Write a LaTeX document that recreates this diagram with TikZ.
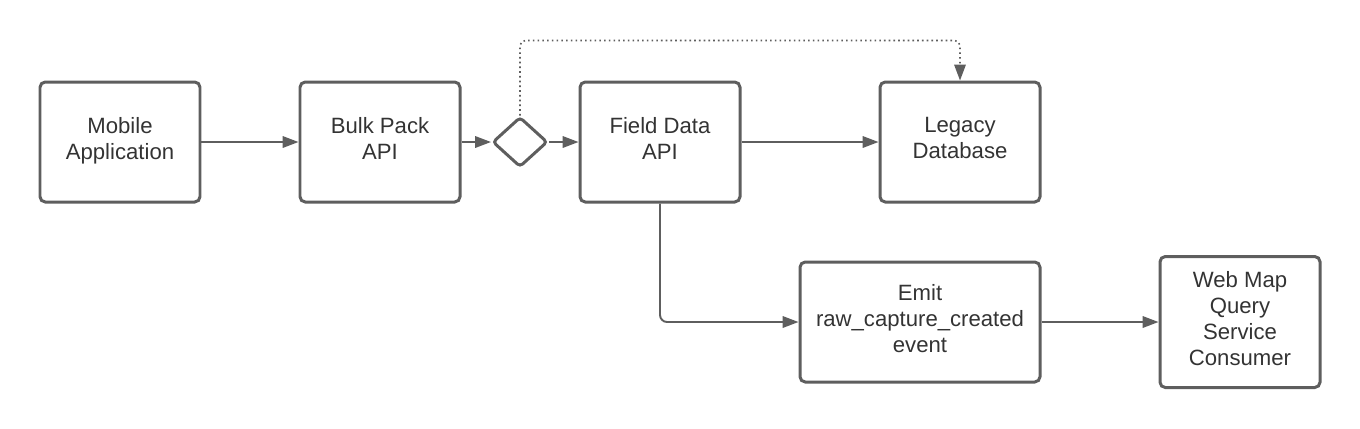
\documentclass[tikz,border=0pt]{standalone}
\usepackage{fontspec}
\setmainfont{Liberation Sans}
\usetikzlibrary{shapes.geometric,arrows.meta,positioning}

\definecolor{edgegray}{HTML}{5E5E5E}
\definecolor{textgray}{HTML}{333333}

\begin{document}
\begin{tikzpicture}[
  on grid,
  node distance=5.2cm,
  block/.style={
    rectangle,
    rounded corners=3pt,
    draw=edgegray,
    line width=1.7pt,
    minimum width=3.2cm,
    minimum height=2.4cm,
    text=textgray,
    font=\fontsize{12.6}{14.8}\selectfont,
    execute at begin node=\strut,
    execute at end node=\strut,
    align=center
  },
  gate/.style={
    diamond,
    rounded corners=2pt,
    draw=edgegray,
    line width=1.7pt,
    inner sep=0pt,
    minimum width=1.1cm,
    minimum height=1.0cm
  },
  flow/.style={-{Triangle[length=9pt,width=6.5pt]}, draw=edgegray, line width=1.1pt},
  hint/.style={-{Triangle[length=9pt,width=6.5pt]}, draw=edgegray, line width=0.9pt,
    dash pattern=on 0.9pt off 1.8pt, rounded corners=3pt}
]

\useasboundingbox (0,0) rectangle (27.2,-8.56);

\node[block] (mobile) at (2.4,-2.84) {Mobile\\Application};
\node[block, right=5.2cm of mobile] (bulk) {Bulk Pack\\API};
\node[gate, right=2.8cm of bulk] (split) {};
\node[block, right=2.8cm of split] (field) {Field Data\\API};
\node[block, right=6cm of field] (legacy) {Legacy\\Database};
\node[block, minimum width=4.8cm, below right=3.6cm and 5.2cm of field] (emit) {Emit\\raw\_capture\_created\\event};
\node[block, minimum height=2.62cm, right=6.4cm of emit] (webmap) {Web Map\\Query\\Service\\Consumer};

\draw[flow] (mobile) -- (bulk);
\draw[flow] (bulk) -- (split);
\draw[flow] (split) -- (field);
\draw[flow] (field) -- (legacy);
\draw[hint] (split.north) -- ++(0,1.5) -| (legacy.north);
\draw[flow, rounded corners=4pt] (field.south) |- (emit.west);
\draw[flow] (emit) -- (webmap);

\end{tikzpicture}
\end{document}
